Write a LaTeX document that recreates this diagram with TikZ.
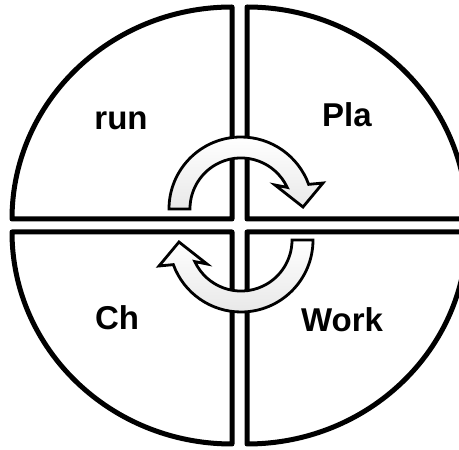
\documentclass[tikz,border=0pt]{standalone}
\usepackage{fontspec}
\setmainfont{Liberation Sans}
\usetikzlibrary{calc, positioning}

\begin{document}
\begin{tikzpicture}[x=1pt, y=1pt,
    quadrant/.style={draw=black, line width=5pt, line join=round, fill=white},
    cyclearrow/.style={draw=black, line width=2.8pt, line join=miter, top color=white, bottom color=gray!18},
    lbl/.style={font=\bfseries\fontsize{33}{36}\selectfont, anchor=base}]
    \useasboundingbox (0,0) rectangle (459,450);
    \clip (0,0) rectangle (459,450);

    % Four quarters of the circle
    \foreach \cx/\cy/\a in {232/231/90, 247/231/0, 232/218/180, 247/218/270} {
        \draw[quadrant] (\cx,\cy) -- ++({220*cos(\a)},{212*sin(\a)})
            arc[start angle=\a, end angle=\a+90, x radius=220, y radius=212] -- cycle;
    }

    % Two turning arrows
    \foreach \r in {0,180} {
        \shadedraw[cyclearrow, rotate around={\r:(241,225.5)}]
            (169,241) arc[start angle=180, end angle=20, radius=72]
            -- (323,267) -- (303,243) -- (275,265) -- (287.2,262.6)
            arc[start angle=25, end angle=180, radius=51] -- cycle;
    }

    % Labels
    \node[lbl] (run) at (121,320) {run};
    \node[lbl] (pla) at (347,323) {Pla};
    \node[lbl] (ch) at (117,120) {Ch};
    \node[lbl] (work) at (342,118) {Work};
\end{tikzpicture}
\end{document}
